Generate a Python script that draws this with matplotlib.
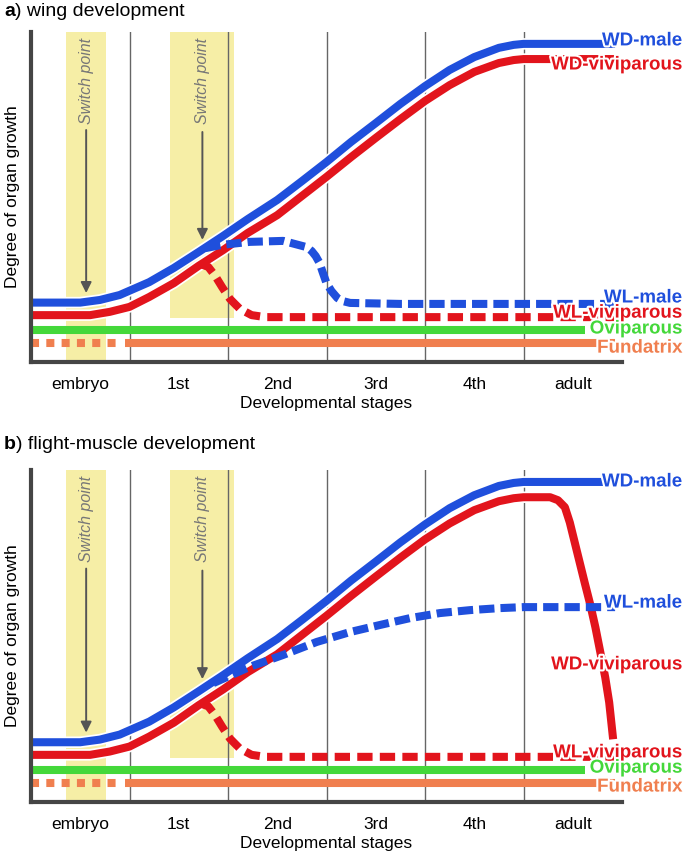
import matplotlib.pyplot as plt
import matplotlib.patheffects as pe

plt.rcParams['font.family'] = ['Liberation Sans', 'DejaVu Sans']

stages = ["embryo", "1st", "2nd", "3rd", "4th", "adult"]

# shared WD-male curve (same in both panels)
wd_male_x = [0, 0.5, 0.7, 0.9, 1.2, 1.45, 1.7, 1.95, 2.2, 2.5, 2.75, 3.0, 3.25, 3.5, 3.75, 4.0, 4.25, 4.5, 4.75, 4.9, 5.0, 5.93]
wd_male_y = [18, 18, 18.8, 20.3, 24.2, 28.5, 33.3, 38.2, 43.3, 49.1, 54.8, 60.6, 66.7, 72.4, 78.2, 83.6, 88.5, 92.4, 95.2, 96.1, 96.4, 96.4]

# panel a
a_wdv_x = [0, 0.6, 0.8, 1.0, 1.2, 1.45, 1.7, 1.95, 2.2, 2.5, 2.75, 3.0, 3.25, 3.5, 3.75, 4.0, 4.25, 4.5, 4.75, 4.9, 5.0, 5.93]
a_wdv_y = [14.2, 14.2, 15.2, 16.7, 19.7, 23.9, 29.1, 33.9, 39.1, 44.5, 50.3, 56.1, 62.1, 67.9, 73.6, 79.1, 83.9, 87.9, 90.6, 91.5, 91.8, 91.8]
a_wlm_x = [1.77, 1.94, 2.22, 2.56, 2.80, 2.85, 2.89, 2.93, 2.96, 3.0, 3.05, 3.11, 3.16, 3.24, 3.75, 5.93]
a_wlm_y = [34.5, 35.5, 36.4, 36.7, 34.8, 33.6, 32.1, 30.0, 27.3, 23.9, 21.5, 19.4, 18.5, 17.9, 17.6, 17.6]
a_wlv_x = [1.72, 1.80, 1.87, 1.94, 2.02, 2.12, 2.24, 2.38, 3.75, 5.93]
a_wlv_y = [29.7, 28.8, 26.1, 22.7, 19.1, 16.1, 14.2, 13.6, 13.6, 13.6]

# panel b
b_wdv_x = [0, 0.6, 0.8, 1.0, 1.2, 1.45, 1.7, 1.95, 2.2, 2.5, 2.75, 3.0, 3.25, 3.5, 3.75, 4.0, 4.25, 4.5, 4.75, 4.9, 5.0,
           5.27, 5.35, 5.42, 5.47, 5.52, 5.57, 5.62, 5.68, 5.73, 5.78, 5.83, 5.87, 5.91]
b_wdv_y = [14.2, 14.2, 15.2, 16.7, 19.7, 23.9, 29.1, 33.9, 39.1, 44.5, 50.3, 56.1, 62.1, 67.9, 73.6, 79.1, 83.9, 87.9, 90.6, 91.5, 91.8,
           91.8, 90.9, 88.8, 84.2, 78.2, 72.2, 66.2, 59.2, 52.6, 45.1, 37.5, 30.0, 18.9]
b_wlm_x = [1.85, 2.22, 2.56, 2.90, 3.24, 3.54, 3.85, 4.15, 4.46, 4.76, 5.0, 5.93]
b_wlm_y = [35.8, 40.7, 44.3, 48.2, 51.2, 53.3, 55.4, 56.9, 57.8, 58.4, 58.7, 58.7]
b_wlv_x = [1.72, 1.80, 1.87, 1.94, 2.02, 2.12, 2.24, 2.38, 3.75, 5.93]
b_wlv_y = [29.7, 28.8, 26.1, 22.7, 19.1, 16.1, 14.2, 13.6, 13.6, 13.6]

ovi_x = [0, 5.62]
ovi_y = [9.7, 9.7]
fund_dot_x = [0, 0.87]
fund_x = [0.95, 5.93]
fund_y = [5.8, 5.8]

# label positions (y) per panel
a_label_y = {"WD-male": 97.3, "WD-viviparous": 90.0, "WL-male": 19.4,
             "WL-viviparous": 14.8, "Oviparous": 10.0, "Fundatrix": 4.2}
b_label_y = {"WD-male": 96.4, "WD-viviparous": 41.3, "WL-male": 59.9,
             "WL-viviparous": 14.8, "Oviparous": 10.2, "Fundatrix": 4.5}

BLUE = '#1f4fdc'
RED = '#e2141c'
GREEN = '#44d83a'
ORANGE = '#f07f4f'
BAND = '#f6eea6'
LW = 5.8
outline = [pe.Stroke(linewidth=LW + 2.5, foreground='white'), pe.Normal()]
colors = {"WD-male": BLUE, "WD-viviparous": RED, "WL-male": BLUE,
          "WL-viviparous": RED, "Oviparous": GREEN, "Fundatrix": ORANGE}


def draw_panel(ax, wdv_x, wdv_y, wlm_x, wlm_y, wlv_x, wlv_y, label_y):
    ax.set_xlim(0, 6)
    ax.set_ylim(0, 100)
    ax.axvspan(0.36, 0.76, color=BAND, lw=0, zorder=0)
    ax.axvspan(1.41, 2.06, ymin=0.133, ymax=1, color=BAND, lw=0, zorder=0)
    for g in range(1, 6):
        ax.axvline(g, color='#666666', lw=1.0, zorder=1)

    for sx, top, tip in [(0.56, 70.3, 20.9), (1.74, 69.7, 37.0)]:
        ax.text(sx, 98.2, "Switch point", rotation=90, ha='center', va='top',
                style='italic', color='#777777', fontsize=11.5)
        ax.annotate("", xy=(sx, tip), xytext=(sx, top),
                    arrowprops=dict(arrowstyle='-|>', color='#555555', lw=1.4,
                                    mutation_scale=16, shrinkA=0, shrinkB=0))

    ax.plot(ovi_x, ovi_y, color=GREEN, lw=LW, solid_capstyle='butt', zorder=2)
    ax.plot(fund_dot_x, fund_y, color=ORANGE, lw=LW, dashes=(1.0, 0.9), zorder=2)
    ax.plot(fund_x, fund_y, color=ORANGE, lw=LW, solid_capstyle='butt', zorder=2)
    ax.plot(wdv_x, wdv_y, color=RED, lw=LW, solid_capstyle='butt', zorder=3, path_effects=outline)
    ax.plot(wlv_x, wlv_y, color=RED, lw=LW, dashes=(1.9, 0.9), zorder=3)
    ax.plot(wd_male_x, wd_male_y, color=BLUE, lw=LW, solid_capstyle='butt', zorder=4, path_effects=outline)
    ax.plot(wlm_x, wlm_y, color=BLUE, lw=LW, dashes=(1.9, 0.75), zorder=4)

    for name, yv in label_y.items():
        ax.text(6.61, yv, name, ha='right', va='center', color=colors[name],
                fontsize=13.5, fontweight='bold', clip_on=False, zorder=6,
                path_effects=[pe.withStroke(linewidth=3, foreground='white')])

    for s in ['top', 'right']:
        ax.spines[s].set_visible(False)
    for s in ['left', 'bottom']:
        ax.spines[s].set_linewidth(3)
        ax.spines[s].set_color('#454545')
        ax.spines[s].set_zorder(5)
    ax.set_xticks([0.5, 1.5, 2.5, 3.5, 4.5, 5.5])
    ax.set_xticklabels(stages, fontsize=12.5)
    ax.set_yticks([])
    ax.tick_params(axis='x', length=0, pad=11)
    ax.set_xlabel("Developmental stages", fontsize=12.5, labelpad=3)
    ax.set_ylabel("Degree of organ growth", fontsize=12.5, labelpad=8)


fig = plt.figure(figsize=(6.85, 8.59), dpi=100)
ax_a = fig.add_axes([31 / 685, 1 - 362 / 859, 591 / 685, 330 / 859])
ax_b = fig.add_axes([31 / 685, 1 - 802 / 859, 591 / 685, 332 / 859])

draw_panel(ax_a, a_wdv_x, a_wdv_y, a_wlm_x, a_wlm_y, a_wlv_x, a_wlv_y, a_label_y)
draw_panel(ax_b, b_wdv_x, b_wdv_y, b_wlm_x, b_wlm_y, b_wlv_x, b_wlv_y, b_label_y)

for ypos, letter, rest in [(1 - 12 / 859, "a", ") wing development"),
                           (1 - 445 / 859, "b", ") flight-muscle development")]:
    t = fig.text(4 / 685, ypos, letter, fontsize=14, fontweight='bold', va='center')
    ax_a.annotate(rest, xy=(1, 0.5), xycoords=t, va='center', fontsize=14)

fig.savefig("out.png", dpi=100)
